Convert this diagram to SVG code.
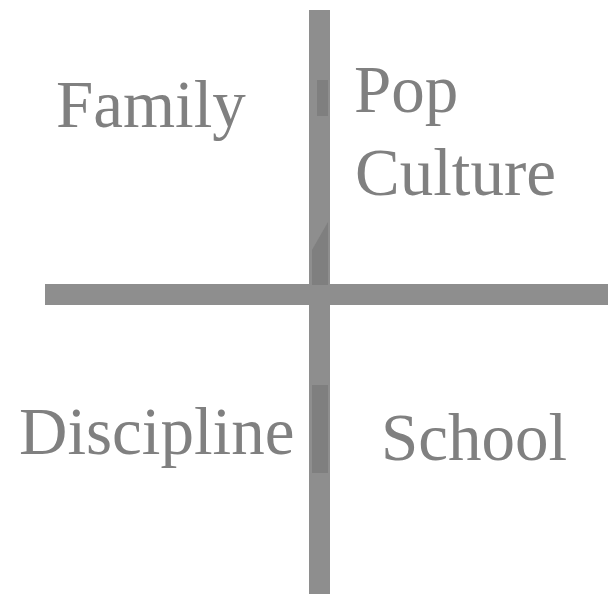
<svg xmlns="http://www.w3.org/2000/svg" width="608" height="594" viewBox="0 0 608 594">
<style>
.bar{fill:#8e8e8e}
.shade{fill:#6f6f6f;opacity:0.5}
.lbl{font-family:"Liberation Serif","Times New Roman",serif;font-size:67px;fill:#808080}
</style>
<rect width="608" height="594" fill="#ffffff"/>
<g id="connectors">
<rect class="bar" x="309" y="10" width="21" height="584"/>
<rect class="bar" x="45" y="284" width="563" height="21"/>
<rect class="shade" x="317" y="80" width="11" height="36"/>
<path class="shade" d="M312 285 L312 250 L328 222 L328 285 Z"/>
<rect class="shade" x="312" y="385" width="16" height="88"/>
</g>
<g id="family"><text class="lbl" x="56" y="127">Family</text></g>
<g id="popculture"><text class="lbl" x="354" y="112">Pop</text><text class="lbl" x="355" y="195">Culture</text></g>
<g id="discipline"><text class="lbl" x="19" y="454">Discipline</text></g>
<g id="school"><text class="lbl" x="381" y="460">School</text></g>
</svg>
